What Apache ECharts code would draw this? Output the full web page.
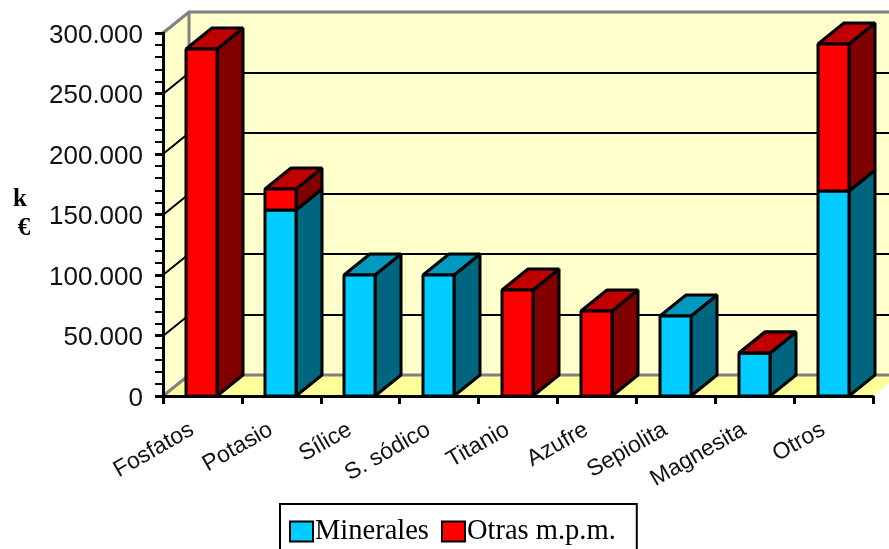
<!DOCTYPE html>
<html><head><meta charset="utf-8">
<style>html,body{margin:0;padding:0;background:#fff}#c{width:889px;height:549px}</style>
<script src="https://cdn.jsdelivr.net/npm/echarts@6/dist/echarts.min.js"></script>
</head><body><div id="c"></div>
<script>
const categories = ['Fosfatos','Potasio','Sílice','S. sódico','Titanio','Azufre','Sepiolita','Magnesita','Otros'];
const minerales = [0,153700,100000,100000,0,0,66100,35300,169400];
const otras = [287000,17500,0,0,87600,70200,0,300,121500];
const gridValues = [50000,100000,150000,200000,250000];

const DX = 26, DY = 21, BAR = 31;
const BLACK = '#000', GREY = '#808080';

function barRenderer(values, bases, front, side, top) {
  return function (params, api) {
    const i = api.value(0), v = values[i];
    if (!v) return {type:'group',children:[]};
    const base = bases ? bases[i] : 0;
    const c = api.coord([i, base]);
    const t = api.coord([i, base + v]);
    const x0 = Math.round(c[0] - 16), x1 = x0 + BAR;
    const y0 = Math.round(c[1]), y1 = Math.round(t[1]);
    const st = f => ({fill:f, stroke:BLACK, lineWidth:3, lineJoin:'bevel'});
    return {type:'group',children:[
      {type:'polygon',shape:{points:[[x1,y0],[x1+DX,y0-DY],[x1+DX,y1-DY],[x1,y1]]},style:st(side)},
      {type:'polygon',shape:{points:[[x0,y1],[x1,y1],[x1+DX,y1-DY],[x0+DX,y1-DY]]},style:st(top)},
      {type:'rect',shape:{x:x0,y:y1,width:BAR,height:y0-y1},style:st(front)}
    ]};
  };
}

function wallRenderer(params, api) {
  const cs = params.coordSys;
  const l = cs.x, r = cs.x + cs.width, b = cs.y + cs.height, t = cs.y;
  const kids = [
    {type:'polygon',shape:{points:[[l+DX,t-DY],[r+DX,t-DY],[r+DX,b-DY],[l+DX,b-DY]]},style:{fill:'#FFFFCC'}},
    {type:'polygon',shape:{points:[[l,t],[l+DX,t-DY],[l+DX,b-DY],[l,b]]},style:{fill:'#FFFFCC'}},
    {type:'polygon',shape:{points:[[l,b],[l+DX,b-DY],[r+DX,b-DY],[r,b]]},style:{fill:'#FFFF99'}}
  ];
  gridValues.forEach(v => {
    const y = Math.round(api.coord([0,v])[1]);
    kids.push({type:'polyline',shape:{points:[[l,y],[l+DX,y-DY],[r+DX,y-DY]]},style:{fill:null,stroke:BLACK,lineWidth:2}});
  });
  const g = {fill:null,stroke:GREY,lineWidth:3};
  kids.push({type:'polyline',shape:{points:[[l,t],[l+DX,t-DY],[r+DX,t-DY]]},style:g});
  kids.push({type:'polyline',shape:{points:[[l,b],[l+DX,b-DY],[r+DX,b-DY]]},style:{fill:null,stroke:GREY,lineWidth:3}});
  kids.push({type:'line',shape:{x1:l+DX,y1:t-DY,x2:l+DX,y2:b-DY},style:g});
  return {type:'group',children:kids};
}

const chart = echarts.init(document.getElementById('c'), null, {renderer:'canvas'});
const idx = categories.map((_, i) => [i]);
chart.setOption({
  animation:false,
  backgroundColor:'#fff',
  grid:{left:163,top:33,width:710,height:363,containLabel:false},
  legend:{
    data:['Minerales','Otras m.p.m.'],
    left:280, top:504,
    orient:'horizontal',
    padding:[13,21,14,9],
    backgroundColor:'#fff',borderColor:BLACK,borderWidth:2,borderRadius:0,
    itemWidth:23,itemHeight:20,itemGap:12,
    icon:'rect',
    textStyle:{fontFamily:'"Liberation Serif"',fontSize:28.5,color:BLACK,padding:[0,0,0,-3]}
  },
  xAxis:{
    type:'category',data:categories,
    z:10,
    axisLine:{lineStyle:{color:BLACK,width:3}},
    axisTick:{show:true,alignWithLabel:false,length:8,lineStyle:{color:BLACK,width:3}},
    axisLabel:{interval:0,rotate:30,margin:26,fontFamily:'"Liberation Sans"',fontSize:23,color:'#111',padding:[0,12,0,0]}
  },
  yAxis:{
    type:'value',min:0,max:300000,interval:50000,
    z:10,
    name:'{k|k}\n{e|€}',nameLocation:'middle',nameRotate:0,nameGap:139,
    nameTextStyle:{color:BLACK,align:'center',rich:{
      k:{fontFamily:'"Liberation Serif"',fontWeight:'bold',fontSize:25,lineHeight:29,color:BLACK,padding:[0,8,0,0]},
      e:{fontFamily:'"Liberation Serif"',fontWeight:'bold',fontSize:25,lineHeight:29,color:BLACK}
    }},
    axisLine:{show:true,lineStyle:{color:BLACK,width:3}},
    axisTick:{show:true,length:8,lineStyle:{color:BLACK,width:3}},
    minorTick:{show:true,splitNumber:5,length:8,lineStyle:{color:BLACK,width:2}},
    splitLine:{show:false},
    axisLabel:{margin:20,color:'#111',
      rich:{v:{fontFamily:'"Liberation Sans"',fontSize:26,color:'#111',padding:[5,0,0,0]}},
      formatter:v => '{v|' + String(v).replace(/\B(?=(\d{3})+$)/g,'.') + '}'}
  },
  series:[
    {type:'custom',name:'wall',z:1,silent:true,data:[[0]],renderItem:wallRenderer,clip:false,legendHoverLink:false},
    {type:'custom',name:'Minerales',z:2,data:idx,clip:false,
      itemStyle:{color:'#00CCFF',borderColor:BLACK,borderWidth:2},
      renderItem:barRenderer(minerales,null,'#00CCFF','#006680','#0099BF')},
    {type:'custom',name:'Otras m.p.m.',z:3,data:idx,clip:false,
      itemStyle:{color:'#FF0000',borderColor:BLACK,borderWidth:2},
      renderItem:barRenderer(otras,minerales,'#FF0000','#800000','#C00000')}
  ]
});
</script></body></html>
